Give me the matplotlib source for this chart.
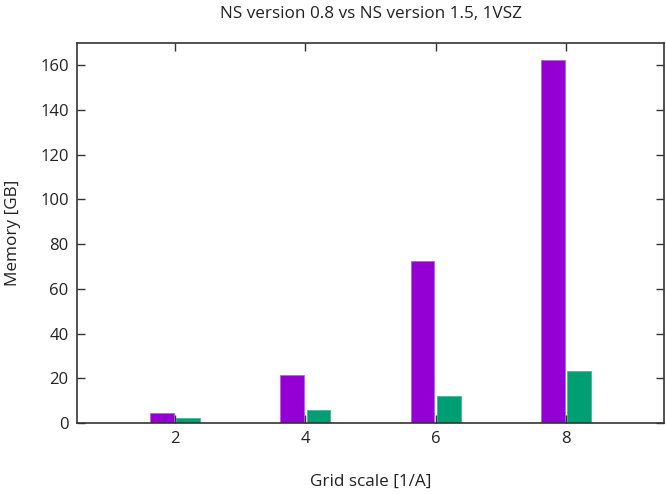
import matplotlib
matplotlib.use("Agg")
import matplotlib.pyplot as plt
import numpy as np

plt.rcParams['font.family'] = ['Open Sans', 'DejaVu Sans']

grid_scale = [2, 4, 6, 8]
mem_v08 = [4.5, 21.5, 72.4, 162.2]
mem_v15 = [2.2, 5.8, 12.0, 23.2]

fig = plt.figure(figsize=(6.66, 4.94), dpi=100)
ax = fig.add_axes([0.1156, 0.1437, 0.8814, 0.7693])

x = np.array(grid_scale, dtype=float)
w = 0.36
ax.bar(x - 0.2, mem_v08, width=w, color='#9400d3', edgecolor='#b760e0', linewidth=0.6)
ax.bar(x + 0.2, mem_v15, width=w, color='#009e73', edgecolor='#40b896', linewidth=0.6)

ax.set_xlim(0.5, 9.5)
ax.set_ylim(0, 170)
ax.set_xticks(grid_scale)
ax.set_yticks(range(0, 161, 20))
ax.tick_params(direction='in', top=True, right=True, length=6, width=1, labelsize=12,
               colors='#333333', labelcolor='#222222', pad=6)
for s in ax.spines.values():
    s.set_color('#333333')
    s.set_linewidth(1.2)

ax.set_xlabel('Grid scale [1/A]', fontsize=12.3, labelpad=19, color='#222222')
ax.set_ylabel('Memory [GB]', fontsize=12.3, labelpad=14, color='#222222')
ax.set_title('NS version 0.8 vs NS version 1.5, 1VSZ', fontsize=12.3, pad=18, color='#222222')

fig.savefig('out.png', dpi=100)
